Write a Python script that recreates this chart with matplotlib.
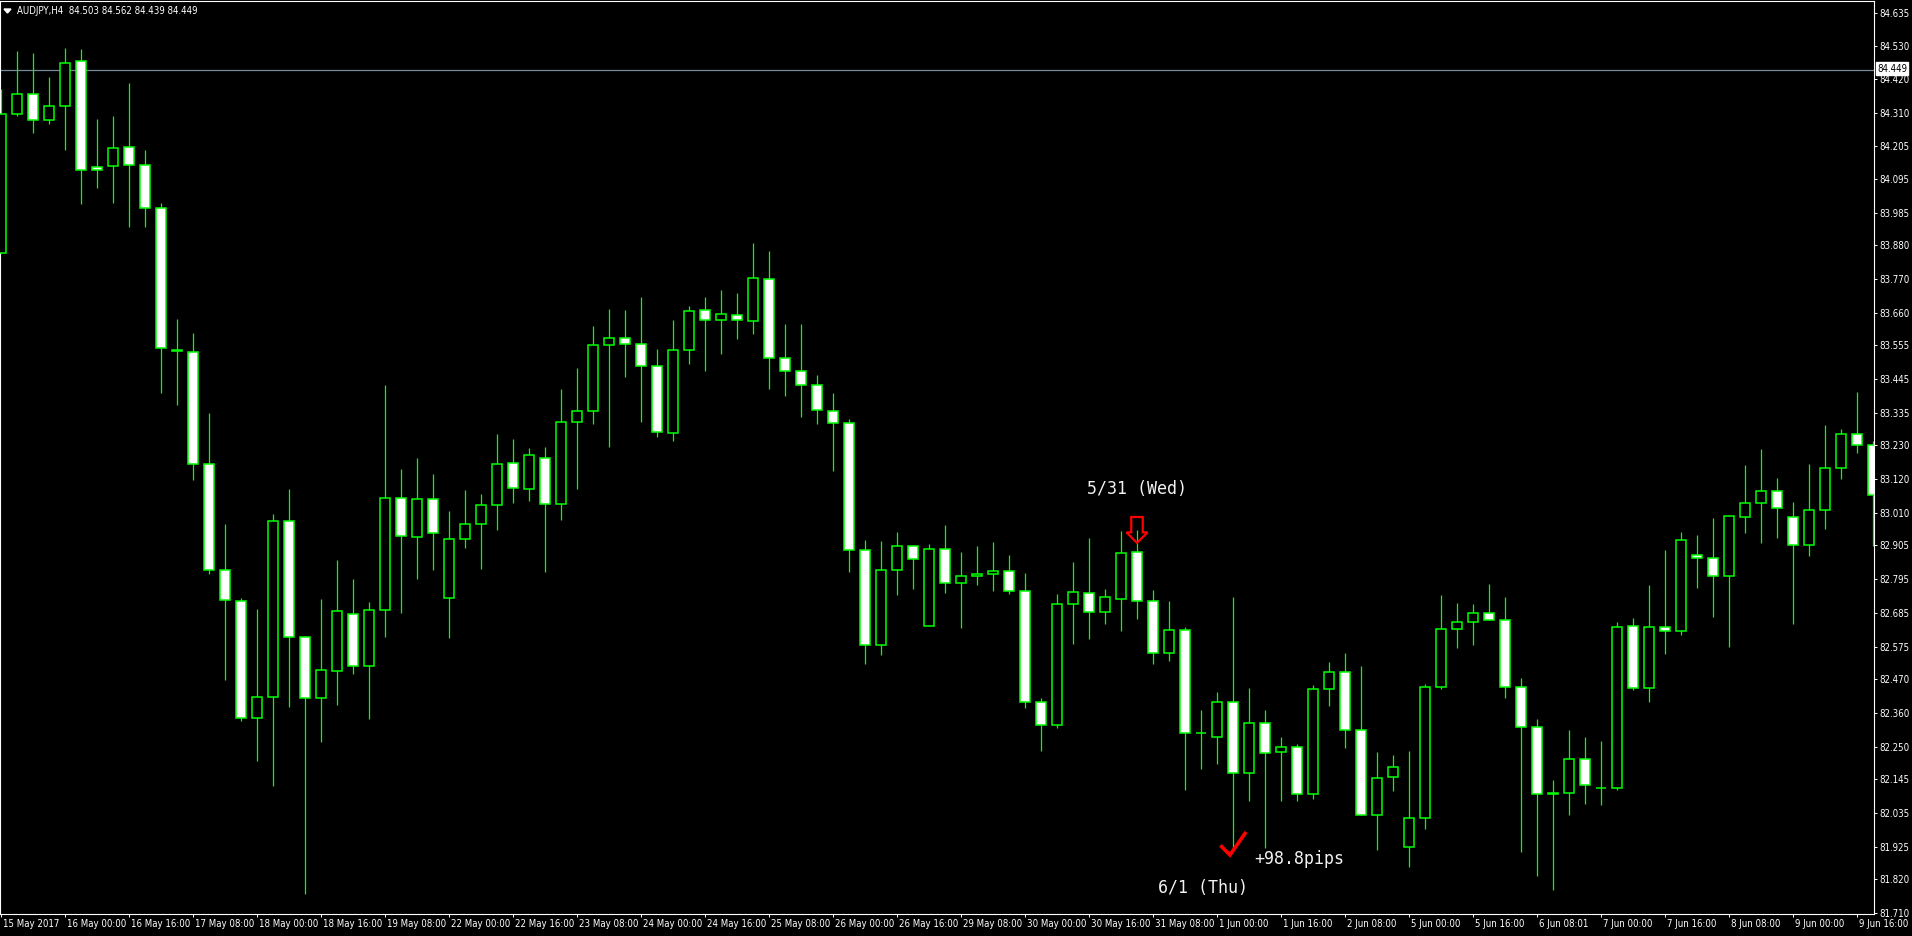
import matplotlib
matplotlib.use('Agg')
import matplotlib.pyplot as plt
import numpy as np
from matplotlib.patches import Polygon
from matplotlib.lines import Line2D
import matplotlib.transforms as mtransforms
from matplotlib import font_manager as fm

# ---------------- data ----------------
symbol_title = "AUDJPY,H4  84.503 84.562 84.439 84.449"
current_price = 84.449

opens = [83.855, 84.307, 84.371, 84.287, 84.335, 84.479, 84.136, 84.138, 84.200, 84.143,
         84.001, 83.541, 83.535, 83.169, 82.826, 82.723, 82.344, 82.413, 82.983, 82.606,
         82.410, 82.496, 82.683, 82.514, 82.696, 83.058, 82.931, 83.054, 82.735, 82.927,
         82.973, 83.035, 83.171, 83.089, 83.188, 83.038, 83.305, 83.341, 83.555, 83.578,
         83.559, 83.487, 83.269, 83.539, 83.669, 83.637, 83.653, 83.633, 83.770, 83.513,
         83.471, 83.425, 83.341, 83.302, 82.889, 82.580, 82.824, 82.902, 82.641, 82.892,
         82.781, 82.804, 82.811, 82.820, 82.755, 82.394, 82.319, 82.713, 82.751, 82.687,
         82.730, 82.882, 82.723, 82.554, 82.628, 82.293, 82.280, 82.394, 82.163, 82.326,
         82.232, 82.248, 82.096, 82.437, 82.492, 82.303, 82.027, 82.150, 81.923, 82.017,
         82.443, 82.632, 82.654, 82.684, 82.661, 82.445, 82.313, 82.098, 82.098, 82.209,
         82.115, 82.115, 82.641, 82.442, 82.638, 82.625, 82.874, 82.863, 82.804, 82.996,
         83.041, 83.080, 82.996, 82.905, 83.019, 83.155, 83.266, 83.230]
highs = [84.389, 84.512, 84.506, 84.428, 84.523, 84.519, 84.291, 84.302, 84.408, 84.190,
         84.019, 83.641, 83.596, 83.335, 82.975, 82.732, 82.698, 83.006, 83.088, 82.611,
         82.730, 82.857, 82.795, 82.722, 83.426, 83.153, 83.189, 83.137, 83.015, 83.085,
         83.072, 83.267, 83.251, 83.221, 83.225, 83.413, 83.482, 83.617, 83.673, 83.670,
         83.711, 83.543, 83.638, 83.683, 83.712, 83.735, 83.725, 83.888, 83.862, 83.625,
         83.625, 83.460, 83.400, 83.316, 82.921, 82.919, 82.948, 82.905, 82.909, 82.971,
         82.883, 82.903, 82.916, 82.873, 82.815, 82.408, 82.747, 82.851, 82.928, 82.762,
         82.951, 82.955, 82.760, 82.724, 82.639, 82.369, 82.428, 82.736, 82.440, 82.369,
         82.280, 82.259, 82.451, 82.525, 82.554, 82.512, 82.233, 82.223, 82.236, 82.453,
         82.743, 82.717, 82.714, 82.779, 82.737, 82.473, 82.340, 82.142, 82.304, 82.282,
         82.269, 82.657, 82.667, 82.776, 82.890, 82.947, 82.937, 82.993, 83.004, 83.166,
         83.218, 83.123, 83.045, 83.168, 83.295, 83.282, 83.404, 83.243]
lows = [83.855, 84.302, 84.247, 84.274, 84.192, 84.014, 84.068, 84.017, 83.939, 83.939,
        83.399, 83.360, 83.116, 82.811, 82.468, 82.335, 82.205, 82.121, 82.378, 81.772,
        82.266, 82.387, 82.485, 82.341, 82.608, 82.686, 82.794, 82.826, 82.602, 82.896,
        82.829, 82.956, 83.041, 83.050, 82.819, 82.988, 83.089, 83.300, 83.226, 83.453,
        83.307, 83.256, 83.245, 83.496, 83.473, 83.528, 83.577, 83.593, 83.414, 83.392,
        83.323, 83.300, 83.148, 82.819, 82.520, 82.549, 82.743, 82.764, 82.641, 82.751,
        82.637, 82.777, 82.757, 82.745, 82.377, 82.237, 82.312, 82.583, 82.601, 82.648,
        82.627, 82.666, 82.520, 82.529, 82.109, 82.179, 82.194, 81.919, 82.074, 81.922,
        82.074, 82.074, 82.079, 82.383, 82.245, 82.027, 81.915, 82.107, 81.860, 81.983,
        82.439, 82.572, 82.582, 82.661, 82.409, 81.909, 81.829, 81.785, 82.027, 82.065,
        82.060, 82.110, 82.434, 82.396, 82.553, 82.614, 82.767, 82.673, 82.575, 82.946,
        82.914, 82.930, 82.648, 82.871, 82.959, 83.122, 83.206, 82.904]
closes = [84.307, 84.371, 84.287, 84.335, 84.475, 84.125, 84.125, 84.198, 84.141, 84.003,
          83.546, 83.537, 83.169, 82.826, 82.727, 82.344, 82.411, 82.984, 82.606, 82.410,
          82.498, 82.690, 82.511, 82.696, 83.058, 82.934, 83.054, 82.944, 82.927, 82.973,
          83.035, 83.168, 83.090, 83.198, 83.038, 83.305, 83.341, 83.555, 83.578, 83.559,
          83.487, 83.272, 83.540, 83.666, 83.637, 83.656, 83.637, 83.773, 83.513, 83.471,
          83.425, 83.344, 83.302, 82.889, 82.580, 82.824, 82.902, 82.859, 82.892, 82.781,
          82.804, 82.811, 82.820, 82.755, 82.394, 82.319, 82.713, 82.752, 82.687, 82.738,
          82.879, 82.723, 82.554, 82.628, 82.293, 82.296, 82.394, 82.163, 82.326, 82.228,
          82.248, 82.096, 82.437, 82.492, 82.304, 82.027, 82.147, 82.183, 82.017, 82.443,
          82.632, 82.654, 82.684, 82.661, 82.445, 82.313, 82.095, 82.096, 82.209, 82.124,
          82.117, 82.638, 82.442, 82.638, 82.625, 82.921, 82.863, 82.804, 82.999, 83.041,
          83.080, 83.025, 82.905, 83.019, 83.155, 83.266, 83.230, 83.067]

x_labels = ["15 May 2017", "16 May 00:00", "16 May 16:00", "17 May 08:00", "18 May 00:00",
            "18 May 16:00", "19 May 08:00", "22 May 00:00", "22 May 16:00", "23 May 08:00",
            "24 May 00:00", "24 May 16:00", "25 May 08:00", "26 May 00:00", "26 May 16:00",
            "29 May 08:00", "30 May 00:00", "30 May 16:00", "31 May 08:00", "1 Jun 00:00",
            "1 Jun 16:00", "2 Jun 08:00", "5 Jun 00:00", "5 Jun 16:00", "6 Jun 08:01",
            "7 Jun 00:00", "7 Jun 16:00", "8 Jun 08:00", "9 Jun 00:00", "9 Jun 16:00"]
bars_per_label = 4
y_labels = ["84.635", "84.530", "84.420", "84.310", "84.205", "84.095", "83.985", "83.880",
            "83.770", "83.660", "83.555", "83.445", "83.335", "83.230", "83.120", "83.010",
            "82.905", "82.795", "82.685", "82.575", "82.470", "82.360", "82.250", "82.145",
            "82.035", "81.925", "81.820", "81.710"]

# ---------------- narrow font selection ----------------
def pick_font():
    files = [f.fname for f in fm.fontManager.ttflist]
    prefs = [('LiberationSansNarrow-Regular', 8.0), ('DejaVuSansCondensed.ttf', 6.9),
             ('NotoSans-Condensed.ttf', 7.2), ('NotoSans-CondensedRegular', 7.2)]
    for key, size in prefs:
        for p in files:
            if key in p:
                return fm.FontProperties(fname=p, size=size)
    return fm.FontProperties(family='Liberation Sans', size=6.7)


AXFONT = pick_font()

# ---------------- figure ----------------
W, H = 1912, 936
FG = 'white'
GREEN = '#00ff00'
NOTE_FONT = ['DejaVu Sans Mono', 'DejaVu Sans']

fig = plt.figure(figsize=(W / 100, H / 100), dpi=100, facecolor='black')
ax_left, ax_right, ax_top, ax_bottom = 0, 1874, 1, 914
ax = fig.add_axes([ax_left / W, (H - ax_bottom) / H, (ax_right - ax_left) / W, (ax_bottom - ax_top) / H])
ax.set_facecolor('black')

n = len(opens)
x = np.arange(n)
o = np.array(opens); h = np.array(highs); l = np.array(lows); c = np.array(closes)
bull = c >= o

ax.vlines(x, l, h, color=GREEN, lw=0.9, zorder=2)
ax.bar(x, c - o, bottom=o, width=0.66,
       color=np.where(bull, 'black', 'white'), edgecolor=GREEN, linewidth=1.1, zorder=3)

ax.axhline(current_price, color='#778899', lw=0.9, zorder=1)

px_per_bar = 16.0
ax.set_xlim(-1 / px_per_bar, (ax_right - ax_left - 1) / px_per_bar)
ax.set_ylim(81.706, 84.675)

for s in ax.spines.values():
    s.set_color(FG)
    s.set_linewidth(0.8)

ax.yaxis.tick_right()
ax.set_yticks([float(v) for v in y_labels])
ax.set_yticklabels(y_labels)
ax.tick_params(axis='y', colors=FG, length=2.3, width=0.7, pad=1.8)
for lab in ax.get_yticklabels():
    lab.set_fontproperties(AXFONT)

ax.set_xticks(np.arange(len(x_labels)) * bars_per_label)
ax.set_xticklabels(x_labels)
ax.tick_params(axis='x', colors=FG, length=2.3, width=0.7, pad=1.0)
offset = mtransforms.ScaledTranslation(1.5 / 72, 0, fig.dpi_scale_trans)
for lab in ax.get_xticklabels():
    lab.set_fontproperties(AXFONT)
    lab.set_horizontalalignment('left')
    lab.set_transform(lab.get_transform() + offset)

# ---------------- annotations ----------------
ax.text(67.875, 83.088, "5/31 (Wed)", color='#f2f2f2', fontsize=12, family=NOTE_FONT,
        ha='left', va='center', zorder=6)
ax.text(78.31, 81.885, "+98.8pips", color='#f2f2f2', fontsize=12, family=NOTE_FONT,
        ha='left', va='center', zorder=6)
ax.text(72.3, 81.7905, "6/1 (Thu)", color='#f2f2f2', fontsize=12, family=NOTE_FONT,
        ha='left', va='center', zorder=6)

ac = 71.0
arrow = Polygon([(ac - 0.36, 82.997), (ac + 0.36, 82.997), (ac + 0.36, 82.947), (ac + 0.66, 82.947),
                 (ac, 82.913), (ac - 0.66, 82.947), (ac - 0.36, 82.947)], closed=True,
                fill=False, edgecolor='#ff0000', lw=1.6, zorder=6)
ax.add_patch(arrow)
ax.add_line(Line2D([76.29, 76.81, 77.75], [81.925, 81.898, 81.968], color='#ff0000', lw=2.6,
                   solid_joinstyle='miter', zorder=6))


def fpx(px, py):
    return (px / W, 1 - py / H)


# title and triangle
fig.text(*fpx(17, 11), symbol_title, color=FG, ha='left', va='center', fontproperties=AXFONT)
tri = Polygon([fpx(4, 9), fpx(11, 9), fpx(7.5, 13)], closed=True, color=FG, transform=fig.transFigure)
fig.add_artist(tri)

# current price box on the axis
fig.text(*fpx(1877, 68.5), f"{current_price:.3f}", color='black', ha='left', va='center',
         fontproperties=AXFONT,
         bbox=dict(boxstyle='square,pad=0.15', facecolor='white', edgecolor='white'))

fig.savefig('out.png', dpi=100, facecolor='black')
